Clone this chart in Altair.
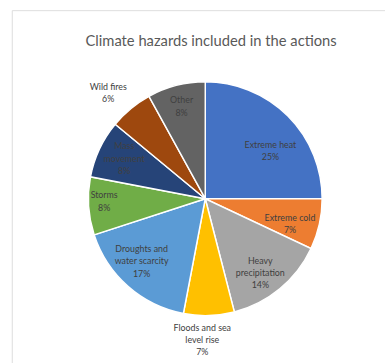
import math
import altair as alt
import pandas as pd

# Share of climate hazards covered by the actions (percent)
categories = [
    "Extreme heat", "Extreme cold", "Heavy precipitation",
    "Floods and sea level rise", "Droughts and water scarcity",
    "Storms", "Mass movement", "Wild fires", "Other",
]
values = [25, 7, 14, 7, 17, 8, 8, 6, 8]
label_lines = [
    ["Extreme heat"], ["Extreme cold"], ["Heavy", "precipitation"],
    ["Floods and sea", "level rise"], ["Droughts and", "water scarcity"],
    ["Storms"], ["Mass", "movement"], ["Wild fires"], ["Other"],
]
colors = ["#4472C4", "#ED7D31", "#A5A5A5", "#FFC000", "#5B9BD5",
          "#70AD47", "#264478", "#9E480E", "#636363"]

# Pie geometry (pixels inside the plot frame)
CX, CY, R = 197, 192, 119
LINE_H = 12.5
# Label placement: distance from centre and small angular nudge per slice
label_radius = [82, 90, 94, 144, 91, 103, 92, 146, 97]
label_nudge = [9, 4, 3, 3, 4, 2, 1, -3, 0]

df = pd.DataFrame({"hazard": categories, "share": values,
                   "idx": list(range(len(values)))})
cum = df["share"].cumsum()
mid = (cum - df["share"] / 2) / 100 * 360 + pd.Series(label_nudge)
rad = mid.apply(math.radians)
df["label"] = [lines + [f"{v}%"] for lines, v in zip(label_lines, values)]
n_lines = df["label"].apply(len)
df["lx"] = CX + pd.Series(label_radius) * rad.apply(math.sin)
# centre each multi-line block on its anchor point
df["ly"] = CY - pd.Series(label_radius) * rad.apply(math.cos) - (n_lines - 1) * LINE_H / 2

pie = alt.Chart(df).mark_arc(
    outerRadius=R, stroke="white", strokeWidth=1.5
).encode(
    theta=alt.Theta("share:Q", stack=True),
    order=alt.Order("idx:Q"),
    color=alt.Color("hazard:N", scale=alt.Scale(domain=categories, range=colors),
                    legend=None),
    x=alt.value(CX),
    y=alt.value(CY),
)

labels = alt.Chart(df).mark_text(
    font="Lato", fontSize=9, color="#404040", align="center",
    baseline="middle", lineHeight=LINE_H
).encode(
    x=alt.X("lx:Q", scale=None),
    y=alt.Y("ly:Q", scale=None),
    text="label",
)

chart = alt.layer(pie, labels).properties(
    width=380, height=360,
    padding={"left": 12, "top": 7, "right": 0, "bottom": 0},
    autosize=alt.AutoSizeParams(type="none"),
    title=alt.TitleParams(
        "Climate hazards included in the actions",
        font="Lato", fontSize=15, fontWeight="normal", color="#595959",
        anchor="start", frame="group", offset=-39, dx=75,
    ),
).configure_view(
    stroke="#D9D9D9", strokeWidth=1.5
).configure(background="white")

chart.save("out.html", embed_options={"renderer": "svg", "actions": False})
